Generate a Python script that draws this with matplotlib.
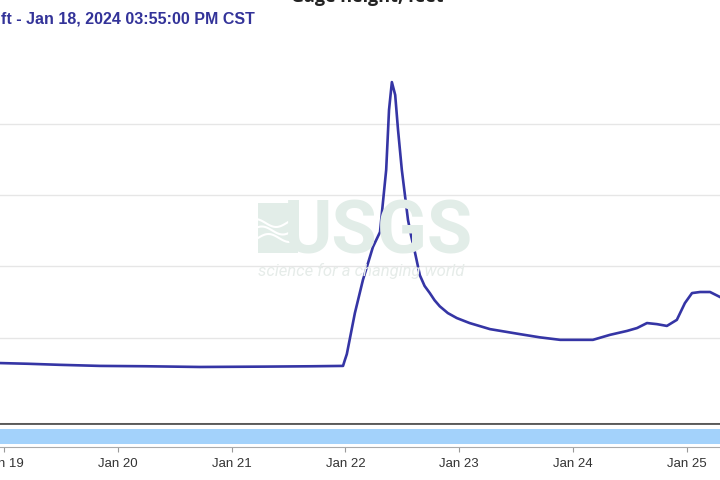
import matplotlib
matplotlib.use("Agg")
import matplotlib.pyplot as plt
import matplotlib.dates as mdates
import pandas as pd
import numpy as np
from matplotlib import font_manager

# ---- data (hours after 2024-01-19 00:00 CST, gage height in feet) ----
hours = [-1.0, 5.0, 11.8, 20.2, 30.0, 41.3, 55.0, 65.0, 71.5, 71.9, 72.3,
         74.0, 75.7, 77.8, 79.3, 79.9, 80.6, 81.2, 81.8, 82.5, 83.1, 83.9,
         85.2, 85.9, 86.7, 87.7, 88.7, 89.8, 90.8, 91.9, 93.6, 95.5, 98.2,
         102.5, 108.8, 113.0, 117.3, 124.2, 127.8, 131.4, 133.5, 135.6,
         137.7, 139.8, 141.9, 143.6, 145.1, 146.8, 148.9, 151.0]
gage_ft = [1.29, 1.27, 1.24, 1.21, 1.20, 1.18, 1.19, 1.20, 1.21, 1.38, 1.54,
           2.69, 3.62, 4.54, 4.96, 5.77, 6.70, 8.38, 9.16, 8.80, 7.82, 6.70,
           5.30, 4.83, 4.37, 3.75, 3.45, 3.25, 3.05, 2.88, 2.69, 2.55, 2.41,
           2.24, 2.10, 2.01, 1.94, 1.94, 2.08, 2.19, 2.27, 2.41,
           2.38, 2.33, 2.50, 2.97, 3.25, 3.28, 3.28, 3.14]
y_ticks = [2, 4, 6, 8]
x_tick_days = ["2024-01-19", "2024-01-20", "2024-01-21", "2024-01-22",
               "2024-01-23", "2024-01-24", "2024-01-25"]
title = "Gage height, feet"
subtitle = "ft - Jan 18, 2024 03:55:00 PM CST"

# ---- fonts ----
avail = {f.name for f in font_manager.fontManager.ttflist}
narrow = "Liberation Sans Narrow" if "Liberation Sans Narrow" in avail else "Liberation Sans"

W, H = 720, 480
fig = plt.figure(figsize=(7.2, 4.8), dpi=100)

def fy(px):
    return 1 - px / H

start = pd.Timestamp("2024-01-19 00:00")
times = [start + pd.Timedelta(hours=h) for h in hours]
tnum = mdates.date2num(times)
day0 = mdates.date2num(start)
px_per_day = 113.8
xl = day0 - 4 / px_per_day
xr = day0 + 716 / px_per_day

# main axes
top_px, bot_px = 54, 423
ax = fig.add_axes([0, fy(bot_px), 1, (bot_px - top_px) / H])
ax.set_xlim(xl, xr)
ax.set_ylim(2 - (bot_px - 337.7) / 35.7, 2 + (337.7 - top_px) / 35.7)
ax.set_yticks(y_ticks)
ax.yaxis.grid(True, color="#e6e6e6", linewidth=1.0)
ax.tick_params(left=False, bottom=False, labelleft=False, labelbottom=False)
for s in ax.spines.values():
    s.set_visible(False)
ax.spines["bottom"].set_visible(True)
ax.spines["bottom"].set_color("#cccccc")
ax.spines["bottom"].set_linewidth(0.8)
ax.set_axisbelow(True)

# watermark (USGS logo)
wm = "#e2ede8"
fig.text(284 / W, fy(254), "USGS", fontsize=53, fontweight="bold",
         family="Roboto", color=wm, ha="left", va="baseline", zorder=0)
fig.text(258 / W, fy(276), "science for a changing world", fontsize=12,
         style="italic", family="Roboto", color="#e6ece9",
         ha="left", va="baseline", zorder=0)
lax = fig.add_axes([258 / W, fy(253), 40 / W, 50 / H])
lax.set_xlim(0, 1); lax.set_ylim(0, 1); lax.axis("off")
lax.add_patch(plt.Rectangle((0, 0), 1, 1, color=wm, lw=0))
xx = np.linspace(0, 1, 30)
for k, base in enumerate([0.3, 0.45, 0.6]):
    lax.plot(xx, base + 0.08 * np.sin(xx * 6 + k), color="white", lw=1.5)

ax.plot(tnum, gage_ft, color="#3535a5", linewidth=1.9, solid_joinstyle="round",
        zorder=3)

# navigator
nt, nb = 424, 447
nax = fig.add_axes([0, fy(nb), 1, (nb - nt) / H])
nax.set_xlim(xl, xr)
nax.set_ylim(0, 1)
nax.axhspan((nb - 444) / (nb - nt), (nb - 429) / (nb - nt), color="#a3d2fb", lw=0)
nax.set_yticks([])
for s in ["left", "right"]:
    nax.spines[s].set_visible(False)
nax.spines["top"].set_color("#444444")
nax.spines["top"].set_linewidth(1.2)
nax.spines["bottom"].set_color("#aaaaaa")
nax.spines["bottom"].set_linewidth(0.8)
ticks = mdates.date2num(pd.to_datetime(x_tick_days))
nax.set_xticks(ticks)
nax.set_xticklabels([pd.Timestamp(d).strftime("%b ") + str(pd.Timestamp(d).day)
                     for d in x_tick_days])
nax.tick_params(axis="x", direction="out", length=3.6, width=0.8,
                color="#999999", labelcolor="#333333", labelsize=9.5, pad=4)
for lab in nax.get_xticklabels():
    lab.set_family(narrow)

# titles (cropped at top of image)
fig.text(367 / W, fy(2), title, fontsize=13, fontweight="bold",
         family="Open Sans", color="#222222", ha="center", va="baseline")
fig.text(255 / W, fy(23), subtitle, fontsize=11.5, fontweight="bold",
         family=narrow, color="#333399", ha="right", va="baseline")

fig.savefig("out.png", dpi=100)
